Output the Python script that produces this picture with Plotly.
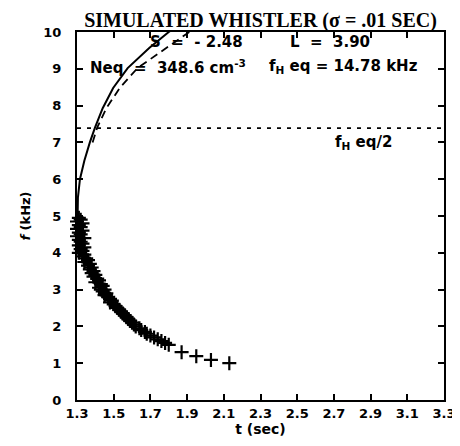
import plotly.graph_objects as go

# ---- data ----
solid_t = [1.300, 1.301, 1.305, 1.316, 1.340, 1.370, 1.398, 1.440, 1.497, 1.576, 1.695, 1.800, 1.870]
solid_f = [4.0, 4.9, 5.5, 6.0, 6.5, 7.0, 7.4, 7.93, 8.48, 9.02, 9.57, 10.0, 10.25]

dashed_t = [1.385, 1.410, 1.460, 1.533, 1.630, 1.788, 1.912, 1.980]
dashed_f = [7.0, 7.4, 7.93, 8.48, 9.02, 9.57, 10.0, 10.2]

cross_t = [1.31, 1.32, 1.30, 1.33, 1.31, 1.32, 1.30, 1.33, 1.31, 1.32, 1.30, 1.34, 1.31, 1.32,
           1.33, 1.31, 1.34, 1.32, 1.33, 1.31, 1.34, 1.33, 1.35, 1.36, 1.34, 1.37, 1.36, 1.38,
           1.37, 1.39, 1.38, 1.40, 1.39, 1.41, 1.42, 1.40, 1.43, 1.44, 1.42, 1.43, 1.45, 1.44,
           1.46, 1.45, 1.47, 1.48, 1.49, 1.48, 1.50, 1.51, 1.52, 1.53, 1.54, 1.55, 1.56, 1.57,
           1.58, 1.59, 1.60, 1.61, 1.62, 1.64, 1.65, 1.67, 1.68, 1.70, 1.72, 1.74, 1.76, 1.78,
           1.80, 1.87, 1.95, 2.03, 2.13]
cross_f = [4.95, 4.90, 4.85, 4.80, 4.75, 4.70, 4.65, 4.60, 4.55, 4.50, 4.45, 4.40, 4.35, 4.30,
           4.25, 4.20, 4.15, 4.10, 4.05, 4.00, 3.95, 3.90, 3.85, 3.80, 3.75, 3.70, 3.65, 3.60,
           3.55, 3.50, 3.45, 3.40, 3.35, 3.30, 3.25, 3.20, 3.15, 3.10, 3.05, 3.00, 3.00, 2.95,
           2.90, 2.85, 2.80, 2.75, 2.70, 2.65, 2.60, 2.55, 2.50, 2.45, 2.40, 2.35, 2.30, 2.25,
           2.20, 2.15, 2.10, 2.05, 2.00, 1.95, 1.90, 1.85, 1.80, 1.75, 1.70, 1.65, 1.60, 1.55,
           1.50, 1.30, 1.19, 1.09, 1.00]

fh_half = 7.39
x_ticks = [1.3, 1.5, 1.7, 1.9, 2.1, 2.3, 2.5, 2.7, 2.9, 3.1, 3.3]
x_tick_text = ["1.3", "1.5", "1.7", "1.9", "2.1", "2.3", "2.5", "2.7", "2.9", "3.1", "3.3"]
y_ticks = [0, 1, 2, 3, 4, 5, 6, 7, 8, 9, 10]

FONT = "DejaVu Sans"

fig = go.Figure()
fig.add_trace(go.Scatter(x=solid_t, y=solid_f, mode="lines",
                         line=dict(color="black", width=2), showlegend=False))
fig.add_trace(go.Scatter(x=dashed_t, y=dashed_f, mode="lines",
                         line=dict(color="black", width=1.8, dash="8px,5px"), showlegend=False))
fig.add_trace(go.Scatter(x=[x_ticks[0], x_ticks[-1]], y=[fh_half, fh_half], mode="lines",
                         line=dict(color="black", width=1.8, dash="4px,6px"), showlegend=False))
fig.add_trace(go.Scatter(x=cross_t, y=cross_f, mode="markers",
                         marker=dict(symbol="cross-thin", size=10, color="black",
                                     line=dict(color="black", width=2.2)),
                         showlegend=False, cliponaxis=False))

tf = dict(family=FONT, size=15, color="black", weight="bold")
ann = [
    dict(x=1.95, y=9.73, text="S  =  - 2.48"),
    dict(x=2.677, y=9.73, text="L  =  3.90"),
    dict(x=1.795, y=9.05, text="Neq  =  348.6 cm<sup>-3</sup>"),
    dict(x=2.753, y=9.05, text="f<sub>H</sub> eq = 14.78 kHz"),
    dict(x=2.861, y=7.01, text="f<sub>H</sub> eq/2"),
]
for a in ann:
    fig.add_annotation(x=a["x"], y=a["y"], text=a["text"], showarrow=False,
                       xref="x", yref="y", font=tf)

# page body has an 8px margin, so the figure is offset by 8px; margins compensate
fig.update_layout(
    width=460, height=446,
    margin=dict(l=69, r=22, t=24, b=54),
    paper_bgcolor="white", plot_bgcolor="white",
    title=dict(text="SIMULATED WHISTLER (σ = .01 SEC)", x=0.5, xref="paper", xanchor="center",
               y=0.972, yanchor="middle", yref="container",
               font=dict(family="Liberation Serif", size=20, color="black", weight="bold")),
)
fig.update_xaxes(range=[1.3, 3.3], tickvals=x_ticks, ticktext=x_tick_text,
                 ticks="inside", ticklen=6, tickwidth=1.5, tickcolor="black",
                 showline=True, linewidth=2, linecolor="black", mirror="ticks",
                 showgrid=False, zeroline=False,
                 tickfont=dict(family=FONT, size=13, color="black", weight="bold"),
                 title=dict(text="t (sec)", standoff=4,
                            font=dict(family=FONT, size=14, color="black", weight="bold")))
fig.update_yaxes(range=[0, 10], tickvals=y_ticks,
                 ticks="inside", ticklen=6, tickwidth=1.5, tickcolor="black",
                 showline=True, linewidth=2, linecolor="black", mirror="ticks",
                 showgrid=False, zeroline=False, ticklabelstandoff=11,
                 tickfont=dict(family=FONT, size=13, color="black", weight="bold"),
                 title=dict(text="<i>f</i> (kHz)", standoff=10,
                            font=dict(family=FONT, size=13, color="black", weight="bold")))

fig.write_html("out.html")
